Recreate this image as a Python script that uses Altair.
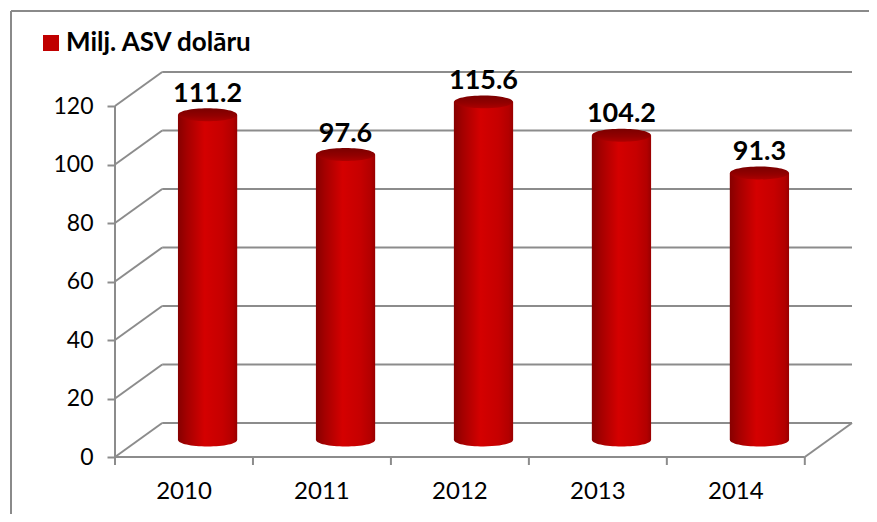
import altair as alt
import pandas as pd

# ---- data ----
years = ["2010", "2011", "2012", "2013", "2014"]
values = [111.2, 97.6, 115.6, 104.2, 91.3]
y_ticks = [0, 20, 40, 60, 80, 100, 120]
legend_label = ["Milj. ASV dolāru"]

# ---- 3D geometry (in data units) ----
PX_PER_CAT = 137.4
PX_PER_VAL = 2.925
DX = 47 / PX_PER_CAT       # depth offset along x (category units)
DY = 34 / PX_PER_VAL       # depth offset along y (value units)
HALF = 29.5 / PX_PER_CAT   # half bar width
N = len(years)
W, H = 737, 385
GRID = "#8c8c8c"
FONT = "Lato"

xs = alt.Scale(domain=[0, N + DX], nice=False, zero=False)
ys = alt.Scale(domain=[0, y_ticks[-1] + DY], nice=False, zero=False)
yaxis = alt.Axis(values=y_ticks, domain=False, grid=False, tickSize=8, tickColor=GRID,
                 tickWidth=2, labelFont=FONT, labelFontSize=23, labelColor="black",
                 labelPadding=14, labelFlush=False, title=None)


def X(f):
    return alt.X(f, type="quantitative", scale=xs, axis=None)


def Y(f):
    return alt.Y(f, type="quantitative", scale=ys, axis=yaxis)


bars = pd.DataFrame({"year": years, "value": values})
bars["i"] = range(N)
bars["xc"] = bars["i"] + 0.5 + DX / 2
bars["xl"] = bars["xc"] - HALF
bars["xr"] = bars["xc"] + HALF
bars["ybase"] = DY / 2
bars["ytop"] = bars["value"] + DY / 2
bars["xf"] = bars["i"] + 0.5

grid = pd.DataFrame({"t": y_ticks})
grid["tb"] = grid["t"] + DY
grid["x0"] = 0.0
grid["xb"] = DX
grid["xe"] = N + DX

floor = pd.DataFrame({"x1": [0.0, float(N), 0.0], "x2": [float(N), N + DX, 0.0],
                      "y1": [0.0, 0.0, 0.0], "y2": [0.0, DY, float(y_ticks[-1])]})
xticks = pd.DataFrame({"b": list(range(N + 1))})

bar_grad = alt.Gradient(
    gradient="linear", x1=0, x2=1, y1=0, y2=0,
    stops=[alt.GradientStop(offset=0, color="#860000"),
           alt.GradientStop(offset=0.15, color="#a40000"),
           alt.GradientStop(offset=0.45, color="#d40000"),
           alt.GradientStop(offset=0.75, color="#c60000"),
           alt.GradientStop(offset=0.93, color="#b20000"),
           alt.GradientStop(offset=1, color="#980000")])
top_grad = alt.Gradient(
    gradient="linear", x1=0, x2=0, y1=0, y2=1,
    stops=[alt.GradientStop(offset=0, color="#7a0000"),
           alt.GradientStop(offset=0.6, color="#930000"),
           alt.GradientStop(offset=1, color="#ad0000")])

ELLIPSE = "M -1 0 A 1 0.22 0 1 0 1 0 A 1 0.22 0 1 0 -1 0 Z"
ESIZE = (2 * HALF * PX_PER_CAT) ** 2

back_lines = alt.Chart(grid).mark_rule(color=GRID, strokeWidth=2).encode(
    x=X("xb"), x2="xe", y=Y("tb"), y2="tb")
side_lines = alt.Chart(grid).mark_rule(color=GRID, strokeWidth=2).encode(
    x=X("x0"), x2="xb", y=Y("t"), y2="tb")
floor_lines = alt.Chart(floor).mark_rule(color=GRID, strokeWidth=2).encode(
    x=X("x1"), x2="x2", y=Y("y1"), y2="y2")
tick_marks = alt.Chart(xticks).mark_rule(color=GRID, strokeWidth=2).encode(
    x=X("b"), y=alt.value(H), y2=alt.value(H + 8))

bottom_ell = alt.Chart(bars).mark_point(shape=ELLIPSE, filled=True, fill=bar_grad, size=ESIZE,
                                        opacity=1, strokeWidth=0).encode(
    x=X("xc"), y=Y("ybase"))
body = alt.Chart(bars).mark_rect(fill=bar_grad).encode(
    x=X("xl"), x2="xr", y=Y("ybase"), y2="ytop")
top_ell = alt.Chart(bars).mark_point(shape=ELLIPSE, filled=True, fill=top_grad, size=ESIZE,
                                     opacity=1, strokeWidth=0).encode(
    x=X("xc"), y=Y("ytop"))
val_text = alt.Chart(bars).mark_text(font=FONT, fontSize=27, fontWeight="bold", color="black",
                                     baseline="alphabetic", dy=-13).encode(
    x=X("xc"), y=Y("ytop"), text=alt.Text("value:Q", format=".1f"))
year_text = alt.Chart(bars).mark_text(font=FONT, fontSize=24, color="black",
                                      baseline="middle").encode(
    x=X("xf"), y=alt.value(H + 35), text="year:N")

leg = pd.DataFrame({"label": legend_label})
leg_sq = alt.Chart(leg).mark_square(color="#c00000", opacity=1, size=256).encode(
    x=alt.value(-64), y=alt.value(-29))
leg_txt = alt.Chart(leg).mark_text(font=FONT, fontSize=26, fontWeight="bold", color="black",
                                   align="left", baseline="alphabetic").encode(
    x=alt.value(-49), y=alt.value(-21), text="label:N")

border_top = alt.Chart(leg).mark_rule(color="#8a8a8a", strokeWidth=2).encode(
    x=alt.value(-104), x2=alt.value(780), y=alt.value(-61))
border_left = alt.Chart(leg).mark_rule(color="#8a8a8a", strokeWidth=2).encode(
    x=alt.value(-104), y=alt.value(-61), y2=alt.value(470))

chart = alt.layer(
    border_top, border_left,
    back_lines, side_lines, floor_lines, tick_marks,
    bottom_ell, body, top_ell, val_text, year_text, leg_sq, leg_txt
).properties(
    width=W, height=H,
    autosize=alt.AutoSizeParams(type="none"),
    padding={"left": 107, "top": 64, "right": 17, "bottom": 57},
).configure_view(stroke=None)

chart.save("out.html", embed_options={"renderer": "svg", "actions": False})
